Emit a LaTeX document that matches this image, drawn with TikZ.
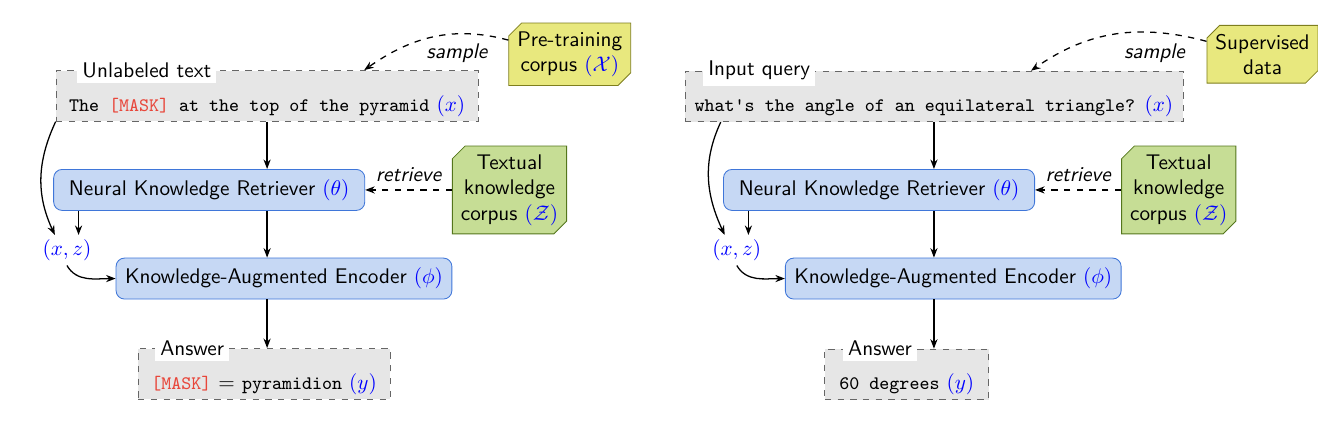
\documentclass[tikz,border=0pt]{standalone}
\usepackage{amsmath, amssymb}
\usepackage{tikz}
\usetikzlibrary{arrows.meta, positioning, calc, shapes.misc}
\usepackage{xcolor}
\definecolor{boxgray}{HTML}{E6E6E6}
\definecolor{modfill}{HTML}{C6D8F4}
\definecolor{moddraw}{HTML}{3F76D9}
\definecolor{corpyel}{HTML}{E8E87E}
\definecolor{corpyeld}{HTML}{7E7E1E}
\definecolor{corpgrn}{HTML}{C6DD95}
\definecolor{corpgrnd}{HTML}{54761C}
\definecolor{maskred}{HTML}{E8473B}
\newcommand{\mvar}[1]{\textcolor{blue}{$(#1)$}}
\newcommand{\mask}{\textcolor{maskred}{[MASK]}}
\newcommand{\iotext}[1]{\rule{0pt}{17pt}#1}

\begin{document}
\begin{tikzpicture}[font=\sffamily,
  io/.style={draw=black!60, dashed, fill=boxgray, minimum height=0.84cm, inner ysep=1.5pt},
  tag/.style={fill=white, inner sep=2.5pt, anchor=west},
  model/.style={draw=moddraw, fill=modfill, rounded corners=4pt, minimum height=0.68cm},
  corpus/.style={chamfered rectangle, chamfered rectangle corners={north west,south east},
    chamfered rectangle sep=3pt, align=center, inner sep=1pt},
  arr/.style={-{Stealth[length=4.5pt]}, semithick},
  darr/.style={arr, dashed},
  verb/.style={font=\sffamily\itshape}]
  \useasboundingbox (0,0) rectangle (21.86,7.0);
  % pre-training
  \node[io, minimum width=7cm] (ul) at (4.43,5.41) {\iotext{{\small\ttfamily The \mask{} at the top of the pyramid} \mvar{x}}};
  \node[tag] (ulT) at ([xshift=0.35cm]ul.north west) {Unlabeled text};
  \node[corpus, draw=corpyeld, fill=corpyel, minimum width=1.89cm, minimum height=0.95cm] (ptc) at (9.45,6.10) {Pre-training\\corpus \mvar{\mathcal{X}}};
  \node[verb] (smpL) at (7.58,6.12) {sample};
  \node[model, minimum width=5.16cm] (ret) at (3.47,3.85) {Neural Knowledge Retriever \mvar{\theta}};
  \node[corpus, draw=corpgrnd, fill=corpgrn, minimum width=1.78cm, minimum height=1.33cm] (tkc) at (8.45,3.85) {Textual\\knowledge\\corpus \mvar{\mathcal{Z}}};
  \node[text=blue, inner sep=2pt] (xz) at (1.11,2.85) {$(x,z)$};
  \node[model, minimum width=5.57cm] (enc) at (4.71,2.38) {Knowledge-Augmented Encoder \mvar{\phi}};
  \node[io, minimum width=4.18cm] (ans) at (4.38,0.80) {\iotext{{\small\ttfamily\mask} $=$ {\small\ttfamily pyramidion} \mvar{y}}};
  \node[tag] (ansT) at ([xshift=0.28cm]ans.north west) {Answer};

  \draw[darr] (ptc.167) to[out=165,in=35] ([xshift=1.61cm]ul.north);
  \draw[darr] (tkc.west) -- node[verb, above] (rtvL) {retrieve} (ret.east);
  \draw[arr] (ul.south) -- (ul.south |- ret.north);
  \draw[arr] (ul.south |- ret.south) -- (ul.south |- enc.north);
  \draw[arr] (ul.south |- enc.south) -- (ul.south |- ans.north);
  \draw[arr] ([xshift=0.42cm]ret.south west) -- ([xshift=0.42cm]ret.south west |- xz.north);
  \draw[arr] (ul.south west) to[out=-115,in=115] ([xshift=-0.2cm]xz.north);
  \draw[arr] (xz.south) to[out=-60,in=180] (enc.west);

  % fine-tuning
  \node[io, minimum width=8.26cm] (iq) at (15.49,5.40) {\iotext{{\small\ttfamily what's the angle of an equilateral triangle?} \mvar{x}}};
  \node[tag] (iqT) at ([xshift=0.3cm]iq.north west) {Input query};
  \node[corpus, draw=corpyeld, fill=corpyel, minimum width=1.75cm, minimum height=0.95cm] (sd) at (20.94,6.10) {Supervised\\data};
  \node[verb] (smpR) at (19.15,6.12) {sample};
  \node[model, minimum width=5.16cm] (retR) at (14.58,3.85) {Neural Knowledge Retriever \mvar{\theta}};
  \node[corpus, draw=corpgrnd, fill=corpgrn, minimum width=1.78cm, minimum height=1.33cm] (tkcR) at (19.55,3.85) {Textual\\knowledge\\corpus \mvar{\mathcal{Z}}};
  \node[text=blue, inner sep=2pt] (xzR) at (12.22,2.85) {$(x,z)$};
  \node[model, minimum width=5.57cm] (encR) at (15.81,2.38) {Knowledge-Augmented Encoder \mvar{\phi}};
  \node[io, minimum width=2.72cm] (ansR) at (15.04,0.79) {\iotext{{\small\ttfamily 60 degrees} \mvar{y}}};
  \node[tag] (ansRT) at ([xshift=0.3cm]ansR.north west) {Answer};

  \draw[darr] (sd.167) to[out=165,in=35] ([xshift=1.61cm]iq.north);
  \draw[darr] (tkcR.west) -- node[verb, above] (rtvR) {retrieve} (retR.east);
  \draw[arr] (iq.south) -- (iq.south |- retR.north);
  \draw[arr] (iq.south |- retR.south) -- (iq.south |- encR.north);
  \draw[arr] (iq.south |- encR.south) -- (iq.south |- ansR.north);
  \draw[arr] ([xshift=0.42cm]retR.south west) -- ([xshift=0.42cm]retR.south west |- xzR.north);
  \draw[arr] ([xshift=0.6cm]iq.south west) to[out=-115,in=115] ([xshift=-0.2cm]xzR.north);
  \draw[arr] (xzR.south) to[out=-60,in=180] (encR.west);
\end{tikzpicture}
\end{document}
